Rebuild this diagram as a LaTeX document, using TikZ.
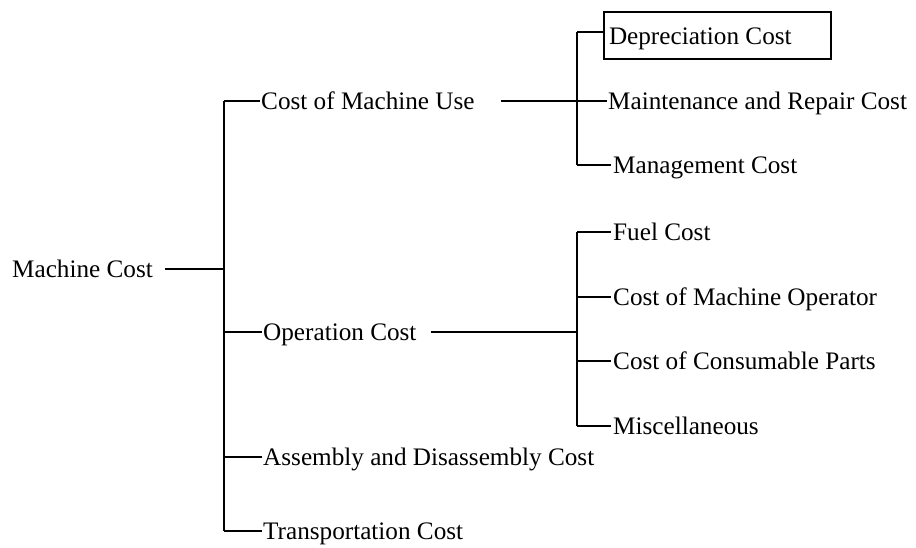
\documentclass[tikz,border=0pt]{standalone}
\usepackage{fontspec}
\setmainfont{Liberation Serif}
\begin{document}
\begin{tikzpicture}[x=1pt,y=-1pt,
  lbl/.style={anchor=west,inner xsep=0pt,inner ysep=0pt,text height=17pt,text depth=0pt,
    font=\fontsize{25.2}{30}\selectfont},
  boxed/.style={lbl,draw,line width=2pt,inner xsep=5pt,inner ysep=15pt},
  trunk/.style={line width=2.8pt},
  branch/.style={line width=1.9pt}]
\useasboundingbox (0,0) rectangle (916,547);
% labels
\node[lbl] (mc) at (12,269) {Machine Cost};
\node[lbl] (cmu) at (261,101) {Cost of Machine Use};
\node[lbl] (op) at (263,332) {Operation Cost};
\node[lbl] (asm) at (263,457) {Assembly and Disassembly Cost};
\node[lbl] (tc) at (263,531) {Transportation Cost};
\node[boxed] (dep) at (603,35.5) {Depreciation Cost\kern34pt\relax};
\node[lbl] (mr) at (608,101) {Maintenance and Repair Cost};
\node[lbl] (mg) at (613,165) {Management Cost};
\node[lbl] (fc) at (613,232) {Fuel Cost};
\node[lbl] (mo) at (613,297) {Cost of Machine Operator};
\node[lbl] (cp) at (613,361) {Cost of Consumable Parts};
\node[lbl] (mi) at (613,426) {Miscellaneous};
% junction coordinates
\coordinate (J1) at (224,269);
\coordinate (J2) at (577,101);
\coordinate (J3) at (577,332);
\coordinate (D) at ([yshift=3.5pt]dep.west);
% root connector
\draw[branch] ([xshift=12pt]mc.east) -- (J1);
\draw[trunk] (cmu.west -| J1) -- (tc.west -| J1);
\draw[branch] (cmu.west -| J1) -- ([xshift=-1pt]cmu.west);
\draw[branch] (op.west -| J1) -- ([xshift=-1pt]op.west);
\draw[branch] (asm.west -| J1) -- ([xshift=-1pt]asm.west);
\draw[branch] (tc.west -| J1) -- ([xshift=-1pt]tc.west);
% cost of machine use group
\draw[branch] ([xshift=26pt]cmu.east) -- (J2);
\draw[trunk] (D -| J2) -- (mg.west -| J2);
\draw[branch] (D -| J2) -- (D);
\draw[branch] (J2) -- ([xshift=-1pt]mr.west);
\draw[branch] (mg.west -| J2) -- ([xshift=-2pt]mg.west);
% operation group
\draw[branch] ([xshift=14pt]op.east) -- (J3);
\draw[trunk] (fc.west -| J3) -- (mi.west -| J3);
\draw[branch] (fc.west -| J3) -- ([xshift=-2pt]fc.west);
\draw[branch] (mo.west -| J3) -- ([xshift=-2pt]mo.west);
\draw[branch] (cp.west -| J3) -- ([xshift=-2pt]cp.west);
\draw[branch] (mi.west -| J3) -- ([xshift=-2pt]mi.west);
\end{tikzpicture}
\end{document}
